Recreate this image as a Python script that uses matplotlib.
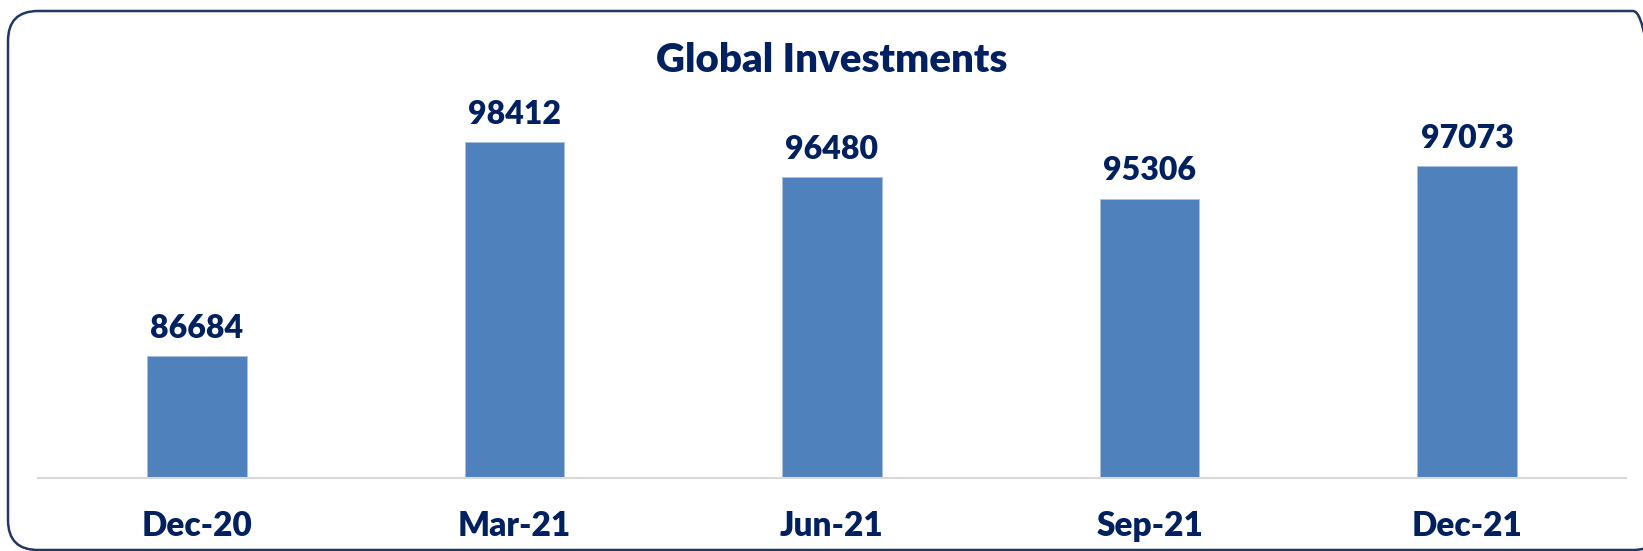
import matplotlib.pyplot as plt
from matplotlib.patches import FancyBboxPatch
from matplotlib.transforms import IdentityTransform

# Data
quarters = ["Dec-20", "Mar-21", "Jun-21", "Sep-21", "Dec-21"]
investments = [86684, 98412, 96480, 95306, 97073]

navy = "#002060"
bar_color = "#4F81BD"

plt.rcParams["font.family"] = ["Lato", "DejaVu Sans"]

W, H = 1643, 551
fig = plt.figure(figsize=(W / 100, H / 100), dpi=100)

# Rounded frame around the chart, in pixels (runs off the right side)
frame = FancyBboxPatch(
    (8, H - 550), 1663 - 8, 550 - 11,
    boxstyle="round,pad=0,rounding_size=30",
    transform=IdentityTransform(),
    facecolor="none", edgecolor="#1F3864", lw=1.8, clip_on=False,
)
fig.patches.append(frame)

ax = fig.add_axes([38 / W, (H - 478) / H, (1626 - 38) / W, (478 - 113) / H])
x = range(len(quarters))
bars = ax.bar(x, investments, width=0.314, color=bar_color,
              edgecolor="#A9C1E0", linewidth=0.6, zorder=2)
ax.set_xlim(-0.5, len(quarters) - 0.5)
ax.set_ylim(80000, 100000)

for b, v in zip(bars, investments):
    ax.annotate(f"{v}", (b.get_x() + b.get_width() / 2, v),
                xytext=(0, 9.5), textcoords="offset points",
                ha="center", va="bottom", fontsize=23, fontweight="heavy",
                color=navy)

ax.set_xticks(list(x))
ax.set_xticklabels(quarters, fontsize=24, fontweight="heavy", color=navy)
ax.tick_params(axis="x", length=0, pad=23)
ax.set_yticks([])
for side in ["top", "right", "left"]:
    ax.spines[side].set_visible(False)
ax.spines["bottom"].set_color("#D9D9D9")
ax.spines["bottom"].set_linewidth(1.5)

fig.text((38 + 1626) / 2 / W, (H - 72) / H, "Global Investments",
         ha="center", va="baseline", fontsize=29, fontweight="heavy", color=navy)

fig.savefig("out.png", dpi=100)
